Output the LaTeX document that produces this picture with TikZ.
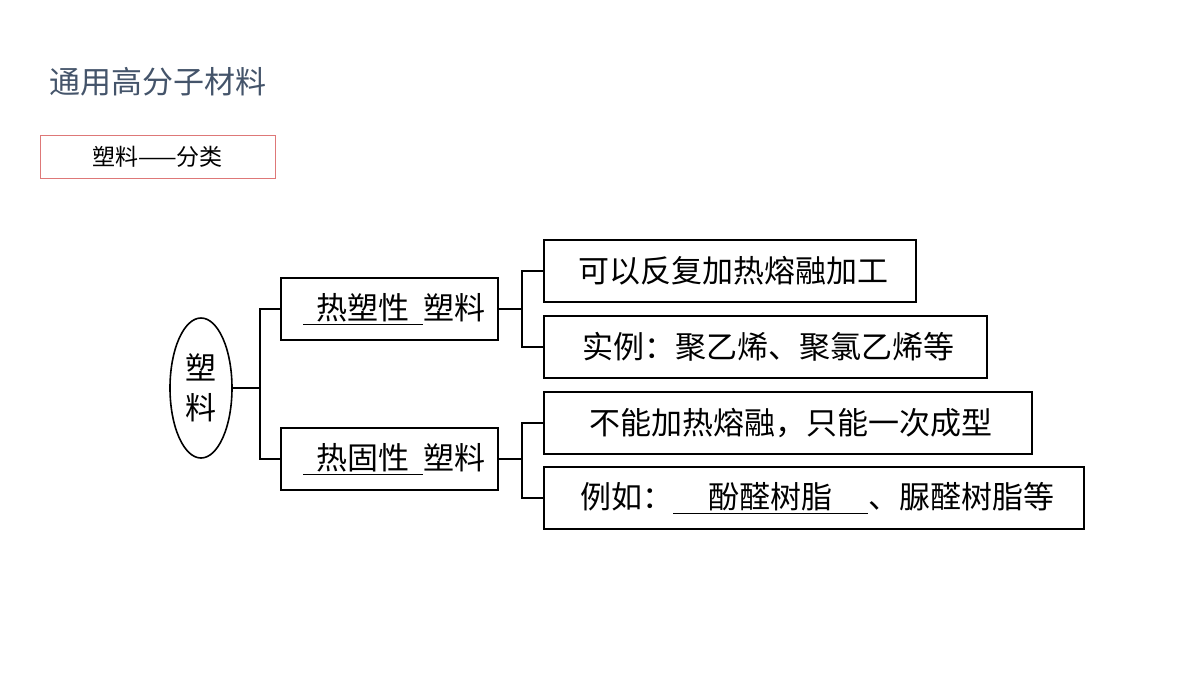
\documentclass[tikz,border=0pt]{standalone}
\usepackage{fontspec}
\setmainfont{Noto Sans CJK SC}
\usetikzlibrary{positioning,shapes.geometric}
\definecolor{titlegray}{RGB}{68,84,106}
\definecolor{tagred}{RGB}{222,120,120}
\tikzset{
  leaf/.style={draw, line width=1.6pt, anchor=west, inner sep=0pt, minimum height=62pt,
    font=\fontsize{31}{34}\selectfont, align=left},
  mid/.style={leaf, minimum width=217pt},
  link/.style={line width=1.6pt}
}
\newcommand{\blank}[2]{\underline{\makebox[#1][c]{#2}}}
\begin{document}
\begin{tikzpicture}[x=1pt,y=-1pt]
  \useasboundingbox (0,0) rectangle (1200,675);
  \node[anchor=west, text=titlegray, font=\fontsize{31}{34}\selectfont] (title) at (46,82) {通用高分子材料};
  \node[draw=tagred, line width=0.8pt, minimum width=235pt, minimum height=43pt, font=\fontsize{23}{26}\selectfont] (tag) at (157.5,156.5) {塑料——分类};
  % root
  \node[draw, ellipse, line width=1.6pt, minimum width=62pt, minimum height=140pt, inner sep=0pt,
    align=center, font=\fontsize{31}{40}\selectfont] (root) at (201,388) {塑\\料};
  % second level
  \node[mid] (thermo) at (280,309) {\hspace{10pt}\blank{120pt}{热塑性}塑料};
  \node[mid] (thermoset) at (280,459) {\hspace{10pt}\blank{120pt}{热固性}塑料};
  % leaves
  \node[leaf, minimum width=372pt] (remelt) at (543,271) {\hspace{7pt}可以反复加热熔融加工};
  \node[leaf, minimum width=443pt] (ex1) at (543,347) {\hspace{7pt}实例：聚乙烯、聚氯乙烯等};
  \node[leaf, minimum width=488pt] (once) at (543,423) {\hspace{7pt}不能加热熔融，只能一次成型};
  \node[leaf, minimum width=540pt] (ex2) at (543,498) {\hspace{7pt}例如：\blank{195pt}{酚醛树脂}、脲醛树脂等};
  % connectors
  \coordinate (j0) at (260,388);
  \coordinate (j1) at (522,309);
  \coordinate (j2) at (522,459);
  \draw[link] (root.east) -- (j0);
  \draw[link] (j0) |- (thermo.west);
  \draw[link] (j0) |- (thermoset.west);
  \draw[link] (thermo.east) -- (j1);
  \draw[link] (j1) |- (remelt.west);
  \draw[link] (j1) |- (ex1.west);
  \draw[link] (thermoset.east) -- (j2);
  \draw[link] (j2) |- (once.west);
  \draw[link] (j2) |- (ex2.west);
\end{tikzpicture}
\end{document}
